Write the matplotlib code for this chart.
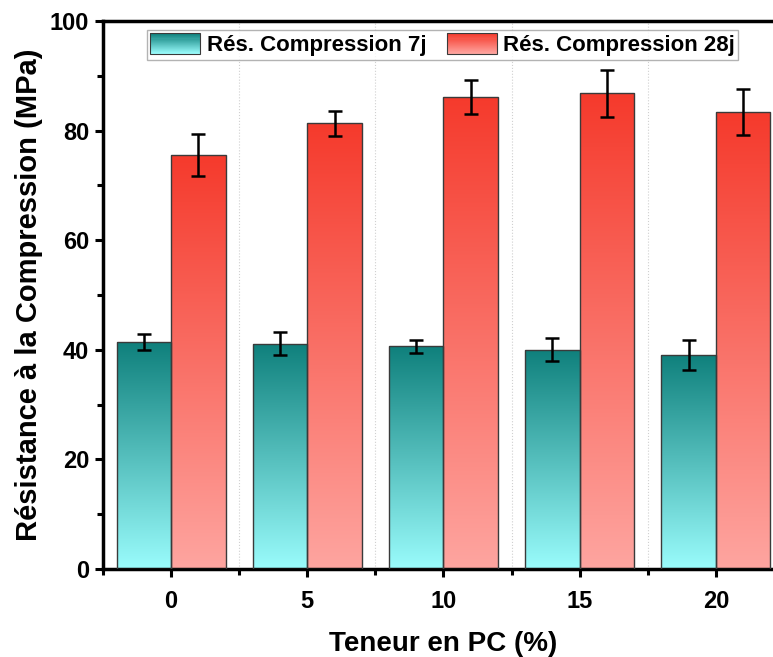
import numpy as np
import matplotlib
matplotlib.use("Agg")
import matplotlib.pyplot as plt
from matplotlib.patches import Rectangle
from matplotlib.colors import LinearSegmentedColormap
from matplotlib.legend_handler import HandlerBase
from matplotlib.ticker import MultipleLocator, FixedLocator

plt.rcParams["font.family"] = ["Liberation Sans", "DejaVu Sans"]
plt.rcParams["font.weight"] = "bold"

# compressive strength per PC content
pc_content = ["0", "5", "10", "15", "20"]
res_7j = [41.4, 41.1, 40.6, 40.0, 39.1]
err_7j = [1.5, 2.1, 1.1, 2.1, 2.7]
res_28j = [75.5, 81.3, 86.2, 86.8, 83.4]
err_28j = [3.8, 2.2, 3.1, 4.3, 4.2]
series_labels = ["Rés. Compression 7j", "Rés. Compression 28j"]

cmap_7j = LinearSegmentedColormap.from_list("teal", ["#9afcfc", "#0f807c"])
cmap_28j = LinearSegmentedColormap.from_list("reds", ["#fea5a0", "#f53a2c"])


def gradient_bars(ax, xs, heights, width, cmap):
    grad = np.linspace(0, 1, 256).reshape(-1, 1)
    for x, h in zip(xs, heights):
        rect = Rectangle((x - width / 2, 0), width, h, facecolor="none",
                         edgecolor="#3a3a3a", linewidth=1.0, zorder=3)
        ax.add_patch(rect)
        im = ax.imshow(grad, cmap=cmap, origin="lower", aspect="auto",
                       extent=(x - width / 2, x + width / 2, 0, h), zorder=2)
        im.set_clip_path(rect)


class GradientHandler(HandlerBase):
    def __init__(self, cmap):
        super().__init__()
        self.cmap = cmap

    def create_artists(self, legend, orig_handle, xdescent, ydescent,
                       width, height, fontsize, trans):
        n = 20
        artists = []
        for i in range(n):
            r = Rectangle((-xdescent, -ydescent + height * i / n), width, height / n,
                          facecolor=self.cmap(i / (n - 1)), edgecolor="none",
                          transform=trans)
            artists.append(r)
        artists.append(Rectangle((-xdescent, -ydescent), width, height,
                                 facecolor="none", edgecolor="#3a3a3a",
                                 linewidth=0.8, transform=trans))
        return artists


fig = plt.figure(figsize=(7.73, 6.57), dpi=100)
ax = fig.add_axes([0.1332, 0.134, 0.881, 0.834])

x = np.arange(len(pc_content))
w = 0.4
gradient_bars(ax, x - w / 2, res_7j, w, cmap_7j)
gradient_bars(ax, x + w / 2, res_28j, w, cmap_28j)

ax.errorbar(x - w / 2, res_7j, yerr=err_7j, fmt="none", ecolor="black",
            elinewidth=1.8, capsize=4.8, capthick=1.8, zorder=4)
ax.errorbar(x + w / 2, res_28j, yerr=err_28j, fmt="none", ecolor="black",
            elinewidth=1.8, capsize=4.8, capthick=1.8, zorder=4)

ax.set_xlim(-0.5, 4.5)
ax.set_ylim(0, 100)
ax.set_xticks(x)
ax.set_xticklabels(pc_content)
ax.xaxis.set_minor_locator(FixedLocator(np.arange(-0.5, 4.6, 1.0)))
ax.yaxis.set_major_locator(MultipleLocator(20))
ax.yaxis.set_minor_locator(MultipleLocator(10))
ax.tick_params(which="major", direction="out", length=6, width=2.2, labelsize=17, pad=4)
ax.tick_params(which="minor", direction="out", length=4, width=2.2)
ax.tick_params(axis="x", which="major", pad=9)
ax.grid(axis="x", which="minor", color="#d0d0d0", linestyle=":", linewidth=0.8, zorder=0)
ax.set_axisbelow(True)

for side in ["left", "bottom", "top", "right"]:
    ax.spines[side].set_linewidth(2.5)

ax.set_xlabel("Teneur en PC (%)", fontsize=20, fontweight="bold", labelpad=13)
ax.set_ylabel("Résistance à la Compression (MPa)", fontsize=21, fontweight="bold", labelpad=5)

h7 = Rectangle((0, 0), 1, 1)
h28 = Rectangle((0, 0), 1, 1)
leg = ax.legend([h7, h28], series_labels, ncol=2, loc="upper left",
                bbox_to_anchor=(0.0646, 0.9836), fontsize=16, frameon=True,
                fancybox=False, edgecolor="#a0a0a0", borderpad=0.15,
                borderaxespad=0, handlelength=2.25, handleheight=1.05,
                columnspacing=0.9, handletextpad=0.3,
                handler_map={h7: GradientHandler(cmap_7j), h28: GradientHandler(cmap_28j)})
leg.get_frame().set_linewidth(1.0)

fig.savefig("out.png", dpi=100)
